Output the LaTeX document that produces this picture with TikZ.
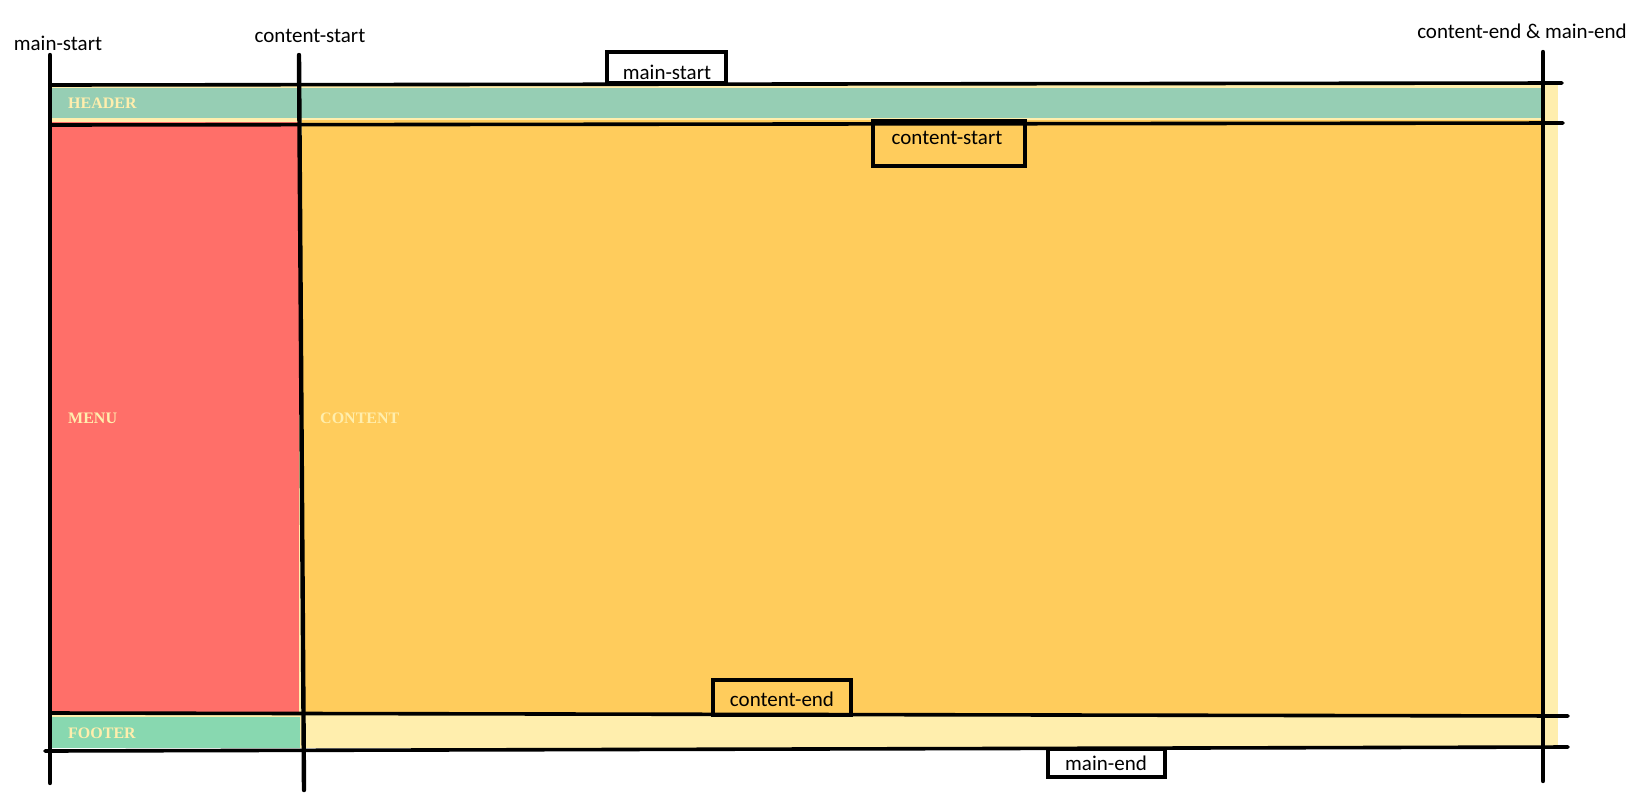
\documentclass[tikz,border=0pt]{standalone}
\usepackage{fontspec}
\setmainfont{Carlito}
\newfontfamily\areafont{Liberation Serif}
\definecolor{bgyellow}{HTML}{FFEEAD}
\definecolor{hdrgreen}{HTML}{96CEB4}
\definecolor{menured}{HTML}{FF6F69}
\definecolor{cntorange}{HTML}{FFCC5C}
\definecolor{ftrgreen}{HTML}{88D8B0}
\tikzset{
  area/.style={inner sep=0pt, outer sep=0pt, anchor=north west},
  arealabel/.style={font=\areafont\bfseries\fontsize{16}{16}\selectfont, text=bgyellow, anchor=west, inner sep=0pt},
  gridname/.style={font=\fontsize{21}{21}\selectfont, inner sep=0pt},
  namebox/.style={draw=black, line width=3.8pt, inner sep=0pt},
  hline/.style={draw=black, line width=3.6pt, line cap=round},
  vline/.style={draw=black, line width=4.4pt, line cap=round},
}
\begin{document}
\begin{tikzpicture}[x={(1pt,0)}, y={(0,-1pt)}]
\useasboundingbox (0,0) rectangle (1642,804);

% grid areas
\node[area, fill=bgyellow, minimum width=1508pt, minimum height=664pt] (main) at (50,84) {};
\node[area, fill=hdrgreen, minimum width=1491pt, minimum height=30pt] (header) at (52,88) {};
\node[area, fill=menured, minimum width=247pt, minimum height=590pt] (menu) at (52,122) {};
\node[area, fill=cntorange, minimum width=1241pt, minimum height=594pt] (content) at (302,120) {};
\node[area, fill=ftrgreen, minimum width=248pt, minimum height=31pt] (footer) at (52,717) {};

\node[arealabel] (lheader) at (68,103) {HEADER};
\node[arealabel] (lmenu) at (68,418) {MENU};
\node[arealabel] (lcontent) at (320,418) {CONTENT};
\node[arealabel] (lfooter) at (68,733) {FOOTER};

% column line end points
\coordinate (c1t) at (50,55);    \coordinate (c1b) at (50,783);
\coordinate (c2t) at (299,55);   \coordinate (c2b) at (304,790);
\coordinate (c3t) at (1543,52);  \coordinate (c3b) at (1543,781);
% row line end points
\coordinate (r1l) at (50,85);    \coordinate (r1r) at (1562,83);
\coordinate (r2l) at (50,125);   \coordinate (r2r) at (1563,123);
\coordinate (r3l) at (50,713);   \coordinate (r3r) at (1568,716);
\coordinate (r4l) at (45,751);   \coordinate (r4r) at (1568,747);

\draw[hline] (r1l) -- (r1r);
\draw[hline] (r2l) -- (r2r);
\draw[hline] (r3l) -- (r3r);
\draw[hline] (r4l) -- (r4r);
\draw[vline] (c1t) -- (c1b);
\draw[vline] (c2t) -- (c2b);
\draw[vline] (c3t) -- (c3b);

% column line names
\node[gridname] (n1) at (58,43) {main-start};
\node[gridname] (n2) at (310,36) {content-start};
\node[gridname] (n3) at (1522,31) {content-end \& main-end};

% row line names
\node[namebox, fill=white, minimum width=119pt, minimum height=31pt] (b1) at (666.5,67.5) {};
\node[gridname] (t1) at (667,72) {main-start};
\node[namebox, minimum width=152pt, minimum height=45pt] (b2) at (949,143.5) {};
\node[gridname] (t2) at (947,138) {content-start};
\node[namebox, minimum width=138pt, minimum height=35pt] (b3) at (782,697.5) {};
\node[gridname] (t3) at (782,699) {content-end};
\node[namebox, fill=white, minimum width=117pt, minimum height=28pt] (b4) at (1106.5,763) {};
\node[gridname] (t4) at (1106,763) {main-end};
\end{tikzpicture}
\end{document}
